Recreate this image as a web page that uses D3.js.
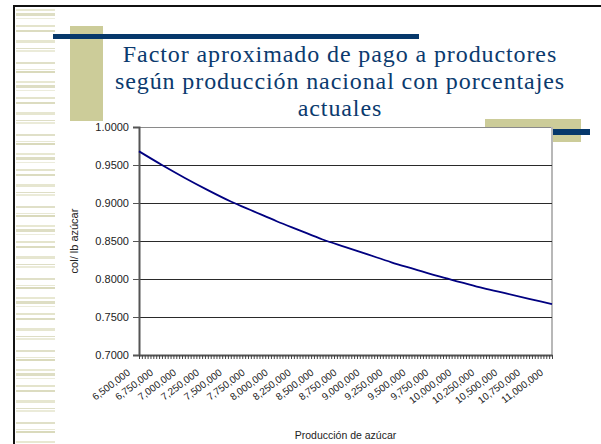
<!DOCTYPE html>
<html>
<head>
<meta charset="utf-8">
<script src="https://cdn.jsdelivr.net/npm/d3@7"></script>
<style>
  body { margin: 0; background: #fff; }
  svg { display: block; }
</style>
</head>
<body>
<div id="chart"></div>
<script>
// production (lb azúcar) at each labelled category
var produccion = [6500000, 6750000, 7000000, 7250000, 7500000, 7750000, 8000000, 8250000, 8500000,
    8750000, 9000000, 9250000, 9500000, 9750000, 10000000, 10250000, 10500000, 10750000, 11000000];
// factor
var factor = [0.968, 0.950, 0.933, 0.917, 0.902, 0.889, 0.876, 0.864, 0.852,
    0.842, 0.832, 0.822, 0.813, 0.804, 0.796, 0.788, 0.781, 0.774, 0.767];
var yTicks = [0.70, 0.75, 0.80, 0.85, 0.90, 0.95, 1.00];
var titleLines = ["Factor aproximado de pago a productores", "según producción nacional con porcentajes", "actuales"];

var serif = "'Times New Roman', 'Liberation Serif', Times, 'DejaVu Serif', serif";
var sans = "'Liberation Sans', Arial, sans-serif";

var W = 601, H = 444;
var margin = { top: 127, right: 49, bottom: 89, left: 139 },
    width = W - margin.left - margin.right,
    height = H - margin.top - margin.bottom;

var svg = d3.select("#chart").append("svg")
    .attr("width", W)
    .attr("height", H);

// --- slide decoration ---
// left striped band
var stripes = [[9,2,"#e8e8d2"],[13,3,"#dedec4"],[18,1,"#ececdc"],[25,2,"#e4e4cc"],[30,2,"#dcdcc0"],
    [40,3,"#e6e6d0"],[48,1,"#dedec6"],[50,2,"#ebebd9"],[62,2,"#e0e0c8"],[69,1,"#e8e8d4"],[71,2,"#dadabc"]];
var band = svg.append("g");
for (var k = 0; k < 7; k++) {
    stripes.forEach(function (s) {
        band.append("rect")
            .attr("x", 16).attr("y", s[0] + k * 72)
            .attr("width", 39).attr("height", s[1])
            .attr("fill", s[2]);
    });
}
// frame
svg.append("rect").attr("x", 13).attr("y", 5).attr("width", 2).attr("height", H).attr("fill", "#111");
svg.append("rect").attr("x", 13).attr("y", 5).attr("width", W).attr("height", 2).attr("fill", "#111");

// tan blocks and navy bars
svg.append("rect").attr("x", 70).attr("y", 26).attr("width", 33).attr("height", 95).attr("fill", "#cccc99");
svg.append("rect").attr("x", 485).attr("y", 119).attr("width", 96).attr("height", 23).attr("fill", "#cccc99");
svg.append("rect").attr("x", 53).attr("y", 34).attr("width", 366).attr("height", 5).attr("fill", "#06386b");
svg.append("rect").attr("x", 553).attr("y", 129).attr("width", 37).attr("height", 6).attr("fill", "#06386b");

// title
svg.append("text")
    .attr("x", 340)
    .attr("y", 62)
    .attr("font-family", serif)
    .attr("font-size", 24)
    .attr("letter-spacing", 0.9)
    .attr("fill", "#0b3a6e")
    .attr("text-anchor", "middle")
    .selectAll("tspan")
    .data(titleLines)
    .enter()
    .append("tspan")
    .attr("x", 340)
    .attr("dy", function (d, i) { return i == 0 ? 0 : 27; })
    .text(function (d) { return d; });

// --- chart ---
var g = svg.append("g")
    .attr("transform", "translate(" + margin.left + "," + margin.top + ")");

g.append("rect")
    .attr("width", width).attr("height", height)
    .attr("fill", "#fff");

var x = d3.scaleLinear()
    .domain([6500000, 11000000])
    .range([0, width]);

var y = d3.scaleLinear()
    .domain([0.7, 1.0])
    .range([height, 0]);

// plot border top/right
g.append("line").attr("x1", 0).attr("x2", width).attr("y1", 0.5).attr("y2", 0.5)
    .attr("stroke", "#8a8a8a").attr("stroke-width", 1);
g.append("line").attr("x1", width).attr("x2", width).attr("y1", 0).attr("y2", height)
    .attr("stroke", "#b8b8b8").attr("stroke-width", 2);

// gridlines
g.selectAll(".grid")
    .data(yTicks.slice(1, -1))
    .enter().append("line")
    .attr("x1", 0).attr("x2", width)
    .attr("y1", function (d) { return Math.round(y(d)) + 0.5; })
    .attr("y2", function (d) { return Math.round(y(d)) + 0.5; })
    .attr("stroke", "#2a2a2a").attr("stroke-width", 1);

// Y axis
var yAxis = g.append("g")
    .call(d3.axisLeft(y).tickValues(yTicks).tickFormat(d3.format(".4f")).tickSize(6).tickPadding(4));
yAxis.select(".domain").attr("stroke", "#555").attr("stroke-width", 2);
yAxis.selectAll(".tick line").attr("stroke", "#555");
yAxis.selectAll("text")
    .attr("font-family", sans)
    .attr("font-size", 11)
    .attr("fill", "#222");

// X axis: minor ticks
var minor = d3.range(0, 145).map(function (i) { return 6500000 + i * 31250; });
var xAxis = g.append("g")
    .attr("transform", "translate(0," + height + ")")
    .call(d3.axisBottom(x).tickValues(minor).tickFormat("").tickSize(4).tickSizeOuter(0));
xAxis.select(".domain").attr("stroke", "#555").attr("stroke-width", 2);
xAxis.selectAll(".tick line").attr("stroke", "#444");

// X labels
g.append("g").selectAll("text")
    .data(produccion)
    .enter().append("text")
    .attr("transform", function (d) { return "translate(" + (x(d) - 8) + "," + (height + 19) + ") rotate(-37)"; })
    .attr("text-anchor", "end")
    .attr("font-family", sans)
    .attr("font-size", 10)
    .attr("fill", "#222")
    .text(function (d) { return d3.format(",")(d); });

// line
var points = produccion.map(function (d, i) { return [d, factor[i]]; });
g.append("path")
    .datum(points)
    .attr("fill", "none")
    .attr("stroke", "#000080")
    .attr("stroke-width", 1.8)
    .attr("d", d3.line()
        .x(function (d) { return x(d[0]); })
        .y(function (d) { return y(d[1]); })
        .curve(d3.curveMonotoneX));

// axis titles
svg.append("text")
    .attr("transform", "translate(78," + (margin.top + height / 2) + ") rotate(-90)")
    .attr("text-anchor", "middle")
    .attr("font-family", sans)
    .attr("font-size", 11)
    .attr("fill", "#222")
    .text("col/ lb azúcar");

svg.append("text")
    .attr("x", margin.left + width / 2)
    .attr("y", 439)
    .attr("text-anchor", "middle")
    .attr("font-family", sans)
    .attr("font-size", 10.5)
    .attr("fill", "#222")
    .text("Producción de azúcar");
</script>
</body>
</html>
